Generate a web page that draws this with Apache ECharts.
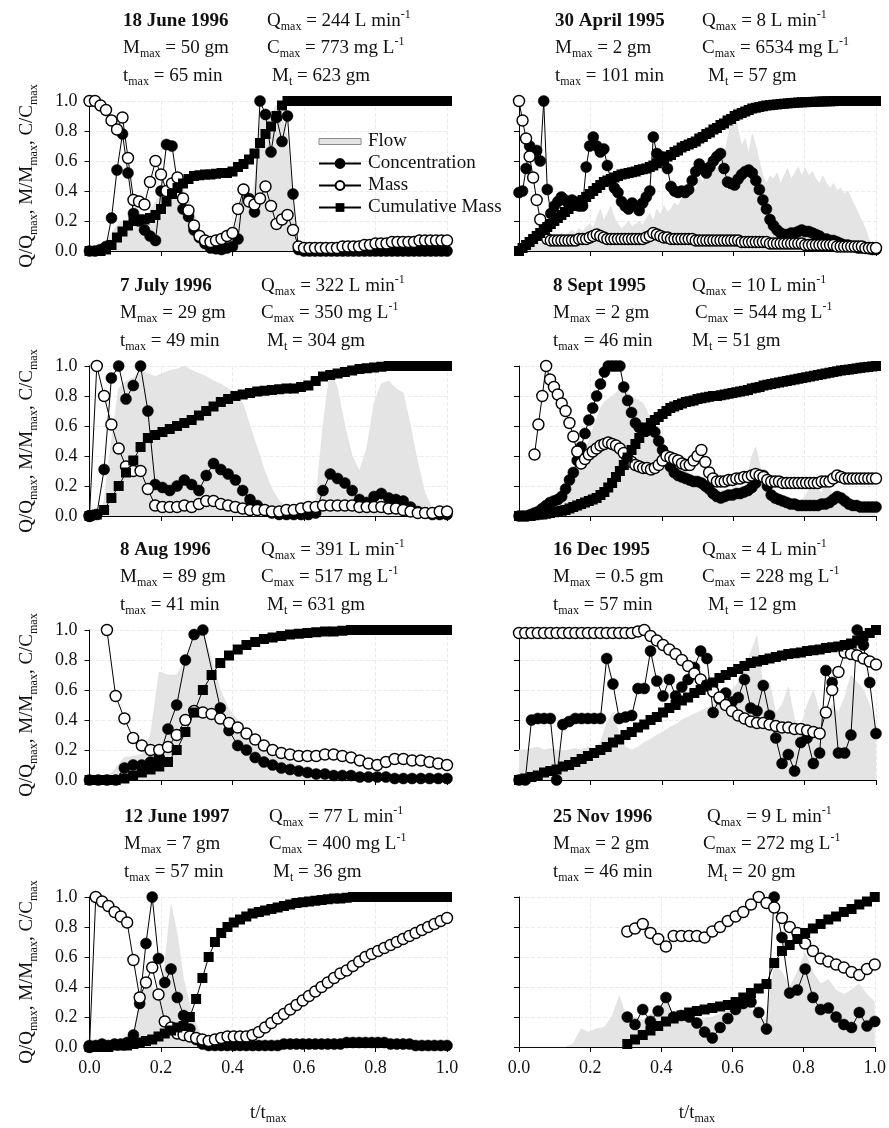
<!DOCTYPE html>
<html><head><meta charset="utf-8">
<script src="https://cdn.jsdelivr.net/npm/echarts@6/dist/echarts.min.js"></script>
<style>html,body{margin:0;padding:0;background:#fff}#c{width:889px;height:1128px}</style>
</head><body><div id="c"></div>
<script>
// ---------- text data ----------
const eventDates = ['18 June 1996','7 July 1996','8 Aug 1996','12 June 1997','30 April 1995','8 Sept 1995','16 Dec 1995','25 Nov 1996'];
const qMax = ['244','322','391','77','8','10','4','9'];
const mMax = ['50','29','89','7','2','2','0.5','2'];
const cMax = ['773','350','517','400','6534','544','228','272'];
const tMax = ['65','49','41','57','101','46','57','46'];
const mTot = ['623','304','631','36','57','51','12','20'];
const seriesNames = ['Flow','Concentration','Mass','Cumulative Mass'];

// ---------- series data (values at equally spaced samples over t/tmax 0..1) ----------
// 18 June 1996
const p1Flow = [0,0,0.01,0.05,0.12,0.17,0.2,0.2,0.19,0.18,0.2,0.27,0.33,0.37,0.4,0.43,0.45,0.42,0.35,0.25,0.15,0.08,0.05,0.03,0.03,0.05,0.1,0.22,0.3,0.3,0.45,0.85,0.95,0.92,0.97,0.9,0.75,0.3,0.04,0.01,0.01,0.01,0.01,0.01,0.01,0.01,0.01,0.01,0.01,0.01,0.01,0.01,0.01,0.01,0.01,0.01,0.01,0.01,0.01,0.01,0.01,0.01,0.01,0.01,0.01,0.01];
const p1Conc = [0,0,0.01,0.03,0.22,0.54,0.78,0.52,0.25,0.2,0.14,0.1,0.07,0.4,0.71,0.7,0.45,0.28,0.23,0.14,0.09,0.05,0.02,0.015,0.01,0.02,0.03,0.08,0.41,0.35,0.26,1,0.91,0.66,0.89,0.73,0.9,0.38,0.01,0,0,0,0,0,0,0,0,0,0,0,0,0,0,0,0,0,0,0,0,0,0,0,0,0,0,0];
const p1Mass = [1,1,0.97,0.94,0.87,0.81,0.89,0.62,0.34,0.33,0.31,0.46,0.6,0.51,0.4,0.45,0.49,0.35,0.27,0.17,0.1,0.07,0.06,0.07,0.08,0.1,0.12,0.28,0.41,0.33,0.31,0.35,0.43,0.3,0.18,0.21,0.24,0.14,0.03,0.02,0.02,0.02,0.02,0.02,0.02,0.02,0.03,0.03,0.03,0.03,0.04,0.04,0.05,0.05,0.05,0.06,0.06,0.06,0.06,0.06,0.07,0.07,0.07,0.07,0.07,0.07];
const p1Cum = [0,0,0,0.01,0.04,0.09,0.13,0.17,0.2,0.21,0.21,0.22,0.24,0.28,0.33,0.38,0.42,0.45,0.48,0.5,0.505,0.51,0.51,0.515,0.52,0.52,0.53,0.56,0.58,0.61,0.65,0.72,0.78,0.83,0.9,0.97,1,1,1,1,1,1,1,1,1,1,1,1,1,1,1,1,1,1,1,1,1,1,1,1,1,1,1,1,1,1];
// 7 July 1996
const p2Flow = [0,0,0.1,0.5,0.85,0.9,0.92,0.97,0.95,0.93,0.95,0.97,0.98,1,0.97,0.95,0.93,0.9,0.88,0.85,0.82,0.75,0.6,0.45,0.3,0.18,0.1,0.06,0.04,0.04,0.05,0.1,0.6,0.98,0.85,0.6,0.4,0.3,0.45,0.75,0.88,0.9,0.85,0.82,0.6,0.35,0.15,0.05,0.02,0.01];
const p2Conc = [0,0.01,0.31,0.92,1,0.78,0.87,1,0.7,0.21,0.19,0.17,0.2,0.24,0.21,0.17,0.27,0.35,0.31,0.28,0.24,0.17,0.11,0.07,0.04,0.02,0.01,0.01,0.01,0.01,0.01,0.02,0.17,0.28,0.25,0.22,0.17,0.11,0.09,0.13,0.15,0.12,0.11,0.1,0.06,0.03,0.02,0.01,0.01,0.01];
const p2Mass = [0,1,0.8,0.61,0.45,0.33,0.3,0.3,0.18,0.07,0.06,0.06,0.06,0.07,0.06,0.08,0.1,0.1,0.08,0.07,0.06,0.05,0.04,0.04,0.04,0.03,0.03,0.04,0.04,0.05,0.06,0.06,0.07,0.07,0.07,0.07,0.07,0.06,0.06,0.06,0.06,0.05,0.05,0.04,0.03,0.02,0.02,0.02,0.03,0.03];
const p2Cum = [0,0.01,0.04,0.12,0.2,0.29,0.37,0.46,0.52,0.54,0.56,0.58,0.6,0.62,0.64,0.67,0.7,0.73,0.76,0.78,0.8,0.81,0.82,0.83,0.835,0.84,0.845,0.85,0.85,0.86,0.87,0.9,0.93,0.94,0.95,0.96,0.97,0.98,0.985,0.99,0.995,1,1,1,1,1,1,1,1,1];
// 8 Aug 1996
const p3Flow = [0,0,0.02,0.08,0.15,0.16,0.17,0.3,0.72,0.7,0.7,0.8,0.95,1,0.8,0.6,0.47,0.4,0.34,0.28,0.25,0.2,0.15,0.12,0.1,0.08,0.07,0.06,0.05,0.04,0.03,0.03,0.02,0.02,0.02,0.02,0.01,0.01,0.01,0.01,0.01,0.01];
const p3Conc = [0,0,0,0,0.08,0.1,0.1,0.12,0.15,0.34,0.5,0.8,0.97,1,null,0.48,0.33,0.23,0.2,0.15,0.12,0.1,0.08,0.07,0.06,0.05,0.04,0.04,0.03,0.03,0.03,0.02,0.02,0.02,0.02,0.01,0.01,0.01,0.01,0.01,0.01,0.01];
const p3Mass = [null,null,1,0.56,0.41,0.28,0.23,0.2,0.2,0.22,0.3,0.4,0.46,0.45,0.44,0.41,0.38,0.35,0.31,0.27,0.23,0.2,0.18,0.17,0.16,0.16,0.16,0.17,0.17,0.16,0.15,0.13,0.11,0.1,0.12,0.14,0.14,0.13,0.13,0.12,0.11,0.1];
const p3Cum = [0,0,0,0,0.01,0.03,0.05,0.07,0.09,0.12,0.2,0.32,0.45,0.6,0.7,0.78,0.83,0.87,0.9,0.92,0.94,0.95,0.96,0.97,0.975,0.98,0.985,0.99,0.99,0.995,1,1,1,1,1,1,1,1,1,1,1,1];
// 12 June 1997
const p4Flow = [0,0,0,0,0,0,0.02,0.1,0.3,0.45,0.4,0.3,0.55,0.95,0.75,0.45,0.28,0.15,0.06,0.02,0,0,0,0,0,0,0,0,0,0,0,0,0,0,0,0,0,0,0,0,0,0,0,0,0,0,0,0,0,0,0,0,0,0,0,0,0,0];
const p4Conc = [0.01,0.01,0.02,0.01,0.02,0.02,0.03,0.08,0.29,0.69,1,0.59,0.43,0.52,0.33,0.21,0.12,0.05,0.02,0.01,0.01,0.01,0.01,0.01,0.01,0.01,0.01,0.01,0.01,0.01,0.01,0.02,0.02,0.02,0.02,0.02,0.02,0.02,0.02,0.02,0.02,0.03,0.03,0.03,0.03,0.03,0.03,0.03,0.02,0.02,0.02,0.02,0.01,0.01,0.01,0.01,0.01,0.01];
const p4Mass = [0,1,0.97,0.94,0.9,0.87,0.83,0.58,0.33,0.43,0.53,0.35,0.17,0.13,0.09,0.08,0.07,0.06,0.05,0.04,0.05,0.06,0.07,0.07,0.07,0.07,0.08,0.1,0.13,0.16,0.19,0.22,0.25,0.28,0.31,0.34,0.37,0.4,0.43,0.46,0.49,0.51,0.54,0.57,0.6,0.62,0.64,0.66,0.68,0.7,0.72,0.74,0.76,0.78,0.8,0.82,0.84,0.86];
const p4Cum = [0,0,0,0,0.01,0.01,0.01,0.02,0.03,0.04,0.05,0.07,0.09,0.11,0.13,0.14,0.2,0.32,0.46,0.6,0.7,0.76,0.8,0.83,0.85,0.87,0.89,0.9,0.91,0.92,0.93,0.94,0.95,0.96,0.965,0.97,0.975,0.98,0.985,0.99,0.99,0.995,1,1,1,1,1,1,1,1,1,1,1,1,1,1,1,1];
// 30 April 1995
const p5Flow = [0,0.01,0.02,0.03,0.04,0.05,0.05,0.06,0.08,0.1,0.08,0.1,0.12,0.1,0.12,0.14,0.12,0.15,0.13,0.16,0.18,0.15,0.22,0.28,0.2,0.25,0.3,0.22,0.18,0.15,0.17,0.2,0.16,0.18,0.2,0.17,0.22,0.25,0.2,0.28,0.24,0.3,0.26,0.28,0.32,0.3,0.35,0.4,0.36,0.45,0.4,0.5,0.45,0.55,0.5,0.58,0.55,0.6,0.62,0.75,0.85,0.96,0.8,0.7,0.75,0.65,0.78,0.7,0.6,0.5,0.45,0.5,0.48,0.52,0.45,0.5,0.55,0.48,0.52,0.56,0.5,0.55,0.5,0.53,0.48,0.45,0.5,0.45,0.42,0.45,0.4,0.42,0.38,0.4,0.35,0.3,0.25,0.2,0.15,0.08,0.03,0];
const p5Conc = [0.39,0.4,0.55,0.7,0.65,0.67,0.6,1,0.41,0.25,0.3,0.33,0.36,0.34,0.32,0.34,0.32,0.3,0.3,0.56,0.7,0.76,0.7,0.66,0.68,0.57,0.47,0.42,0.39,0.33,0.3,0.28,0.32,0.3,0.27,0.32,0.36,0.4,0.76,0.65,0.63,0.62,0.55,0.43,0.4,0.39,0.4,0.39,0.41,0.47,0.53,0.58,0.55,0.52,0.56,0.6,0.63,0.65,0.55,0.46,0.45,0.44,0.48,0.51,0.53,0.54,0.52,0.47,0.41,0.34,0.28,0.21,0.17,0.14,0.12,0.11,0.11,0.12,0.12,0.13,0.14,0.13,0.13,0.12,0.11,0.1,0.08,0.08,0.07,0.07,0.06,0.05,0.04,0.04,0.03,0.03,0.02,0.02,0.02,0.015,0.01,0.01];
const p5Mass = [1,0.87,0.75,0.63,0.49,0.34,0.21,0.12,0.08,0.07,0.07,0.07,0.07,0.07,0.07,0.07,0.07,0.08,0.08,0.08,0.09,0.1,0.11,0.1,0.09,0.08,0.08,0.08,0.08,0.08,0.08,0.08,0.08,0.08,0.08,0.08,0.09,0.1,0.12,0.11,0.1,0.09,0.09,0.08,0.08,0.08,0.08,0.08,0.08,0.08,0.07,0.07,0.07,0.07,0.07,0.07,0.07,0.07,0.07,0.07,0.07,0.07,0.07,0.06,0.06,0.06,0.06,0.06,0.06,0.06,0.06,0.05,0.05,0.05,0.05,0.05,0.05,0.05,0.05,0.05,0.05,0.04,0.04,0.04,0.04,0.04,0.04,0.04,0.04,0.04,0.03,0.03,0.03,0.03,0.03,0.03,0.03,0.03,0.02,0.02,0.02,0.02];
const p5Cum = [0,0.02,0.04,0.06,0.08,0.1,0.12,0.14,0.16,0.18,0.2,0.22,0.24,0.26,0.28,0.3,0.31,0.33,0.34,0.36,0.38,0.4,0.42,0.44,0.46,0.47,0.48,0.49,0.5,0.51,0.515,0.52,0.525,0.53,0.54,0.545,0.55,0.56,0.57,0.585,0.6,0.61,0.63,0.64,0.66,0.67,0.69,0.7,0.71,0.72,0.73,0.75,0.76,0.78,0.79,0.81,0.82,0.84,0.85,0.87,0.88,0.9,0.91,0.92,0.93,0.94,0.95,0.955,0.96,0.965,0.97,0.972,0.975,0.977,0.98,0.982,0.984,0.986,0.988,0.99,0.991,0.992,0.993,0.994,0.995,0.996,0.997,0.998,0.998,0.999,1,1,1,1,1,1,1,1,1,1,1,1];
// 8 Sept 1995
const p6Flow = [0,0,0,0,0.01,0.02,0.04,0.06,0.09,0.12,0.15,0.17,0.2,0.23,0.26,0.3,0.36,0.42,0.5,0.58,0.65,0.72,0.76,0.78,0.8,0.82,0.85,0.84,0.82,0.8,0.78,0.77,0.75,0.7,0.62,0.56,0.52,0.47,0.43,0.4,0.37,0.35,0.33,0.3,0.28,0.26,0.25,0.23,0.21,0.2,0.19,0.18,0.17,0.17,0.16,0.16,0.15,0.15,0.18,0.28,0.4,0.46,0.35,0.2,0.15,0.14,0.13,0.12,0.12,0.11,0.11,0.1,0.1,0.11,0.14,0.2,0.25,0.18,0.15,0.22,0.18,0.14,0.12,0.12,0.11,0.1,0.1,0.09,0.09,0.08,0.08,0.07,0.06];
const p6Conc = [0,0,0,0.01,0.02,0.03,0.05,0.07,0.09,0.1,0.11,0.13,0.18,0.24,0.29,0.37,0.46,0.55,0.64,0.72,0.8,0.88,0.96,1,1,1,1,0.86,0.77,0.69,0.62,0.59,0.58,0.57,0.58,0.56,0.5,0.44,0.38,0.33,0.29,0.27,0.26,0.25,0.24,0.23,0.23,0.22,0.2,0.18,0.15,0.13,0.12,0.13,0.14,0.14,0.15,0.15,0.16,0.17,0.19,0.22,0.26,0.27,0.2,0.14,0.12,0.11,0.1,0.09,0.08,0.08,0.07,0.07,0.07,0.07,0.07,0.07,0.08,0.08,0.09,0.11,0.13,0.12,0.1,0.08,0.07,0.07,0.06,0.06,0.06,0.06,0.06];
const p6Mass = [null,null,null,null,0.41,0.61,0.8,1,0.91,0.86,0.81,0.75,0.7,0.62,0.53,0.43,0.35,0.38,0.41,0.43,0.45,0.47,0.48,0.49,0.48,0.47,0.45,0.42,0.38,0.36,0.34,0.33,0.32,0.32,0.31,0.32,0.34,0.37,0.4,0.39,0.38,0.37,0.35,0.34,0.34,0.37,0.4,0.44,0.36,0.29,0.25,0.23,0.23,0.23,0.24,0.24,0.25,0.25,0.26,0.26,0.27,0.28,0.27,0.26,0.24,0.23,0.23,0.23,0.22,0.22,0.22,0.22,0.22,0.22,0.22,0.22,0.22,0.22,0.23,0.23,0.23,0.25,0.27,0.26,0.25,0.25,0.25,0.25,0.25,0.25,0.25,0.25,0.25];
const p6Cum = [0,0,0,0,0.005,0.01,0.01,0.015,0.02,0.025,0.03,0.035,0.04,0.05,0.06,0.07,0.08,0.09,0.1,0.11,0.12,0.14,0.16,0.19,0.22,0.26,0.3,0.34,0.39,0.44,0.48,0.52,0.56,0.59,0.62,0.64,0.66,0.68,0.7,0.72,0.73,0.74,0.75,0.76,0.765,0.77,0.78,0.785,0.79,0.795,0.8,0.8,0.805,0.81,0.815,0.82,0.825,0.83,0.835,0.84,0.85,0.855,0.86,0.87,0.875,0.88,0.885,0.89,0.895,0.9,0.905,0.91,0.915,0.92,0.925,0.93,0.935,0.94,0.945,0.95,0.955,0.96,0.965,0.97,0.973,0.976,0.98,0.984,0.988,0.991,0.994,0.997,1];
// 16 Dec 1995
const p7Flow = [0.2,0.2,0.21,0.22,0.2,0.21,0.2,0.19,0.2,0.21,0.2,0.22,0.2,0.25,0.38,0.45,0.3,0.22,0.2,0.22,0.25,0.27,0.3,0.32,0.35,0.37,0.4,0.42,0.44,0.46,0.48,0.5,0.53,0.55,0.6,0.65,0.75,0.85,0.96,0.6,0.65,0.45,0.5,0.62,0.4,0.35,0.5,0.6,0.45,0.4,0.5,0.45,0.55,0.7,0.65,0.6,0.5,0.35];
const p7Conc = [0,0,0.4,0.41,0.41,0.41,0,0.37,0.39,0.41,0.41,0.41,0.41,0.41,0.81,0.64,0.41,0.42,0.43,0.61,0.61,0.86,0.66,0.56,0.67,0.56,0.62,0.67,0.75,0.86,0.81,0.45,0.54,0.58,0.52,0.55,0.67,0.48,0.46,0.63,0.43,0.28,0.11,0.17,0.06,0.25,0.28,0.11,0.18,0.73,0.65,0.18,0.18,0.3,1,0.9,0.65,0.31];
const p7Mass = [0.98,0.98,0.98,0.98,0.98,0.98,0.98,0.98,0.98,0.98,0.98,0.98,0.98,0.98,0.98,0.98,0.98,0.98,0.98,0.99,1,0.96,0.93,0.9,0.87,0.84,0.8,0.76,0.71,0.67,0.63,0.59,0.55,0.5,0.46,0.43,0.41,0.39,0.38,0.38,0.37,0.36,0.35,0.35,0.34,0.34,0.33,0.32,0.31,0.45,0.6,0.72,0.85,0.84,0.83,0.81,0.79,0.77];
const p7Cum = [0,0.01,0.02,0.03,0.05,0.06,0.07,0.09,0.1,0.12,0.14,0.16,0.18,0.2,0.22,0.25,0.27,0.3,0.32,0.35,0.37,0.4,0.42,0.45,0.48,0.5,0.53,0.55,0.58,0.6,0.63,0.65,0.68,0.7,0.72,0.74,0.76,0.78,0.79,0.8,0.81,0.82,0.83,0.84,0.845,0.85,0.86,0.865,0.87,0.88,0.885,0.89,0.9,0.91,0.93,0.96,0.98,1];
// 25 Nov 1996
const p8Flow = [0,0,0,0,0,0,0,0.02,0.12,0.1,0.12,0.13,0.2,0.34,0.17,0.2,0.18,0.22,0.25,0.32,0.22,0.2,0.18,0.17,0.19,0.2,0.22,0.25,0.27,0.3,0.25,0.2,0.18,0.55,0.5,0.4,0.5,0.63,0.5,0.42,0.45,0.38,0.35,0.38,0.42,0.35,0.3];
const p8Conc = [null,null,null,null,null,null,null,null,null,null,null,null,null,null,0.2,0.15,0.25,0.17,0.24,0.33,0.2,0.21,0.2,0.16,0.1,0.06,0.13,0.19,0.25,0.29,0.3,0.23,0.12,1,0.73,0.36,0.38,0.52,0.33,0.25,0.26,0.2,0.15,0.13,0.23,0.14,0.17];
const p8Mass = [null,null,null,null,null,null,null,null,null,null,null,null,null,null,0.77,0.79,0.82,0.76,0.72,0.67,0.74,0.74,0.74,0.74,0.73,0.77,0.8,0.84,0.87,0.9,0.95,1,0.96,0.93,0.86,0.8,0.76,0.69,0.64,0.59,0.57,0.55,0.53,0.5,0.48,0.52,0.55];
const p8Cum = [null,null,null,null,null,null,null,null,null,null,null,null,null,null,0.02,0.05,0.08,0.11,0.14,0.17,0.19,0.21,0.23,0.24,0.25,0.26,0.27,0.28,0.3,0.33,0.36,0.39,0.42,0.56,0.64,0.68,0.72,0.76,0.79,0.82,0.85,0.87,0.9,0.92,0.95,0.97,1];

// ---------- layout (not data) ----------
const SERIF = 'Liberation Serif';
const COLS = [{left: 89.5, width: 357.5}, {left: 519, width: 357}];
const ROW_TOPS = [101, 366, 630, 897];
const PLOT_H = 150;
const TEXT_X = [[123,267,267,272],[120,261,261,267],[120,261,261,267],[124,269,269,273],
                [555,702,702,708],[553,692,695,692],[553,702,702,708],[553,707,703,707]];
const TEXT_DY = [-92, -65, -37];
const FLOW_GRAY = '#e4e4e4';

const panelSeries = [
  [p1Flow,p1Conc,p1Mass,p1Cum],[p2Flow,p2Conc,p2Mass,p2Cum],[p3Flow,p3Conc,p3Mass,p3Cum],[p4Flow,p4Conc,p4Mass,p4Cum],
  [p5Flow,p5Conc,p5Mass,p5Cum],[p6Flow,p6Conc,p6Mass,p6Cum],[p7Flow,p7Conc,p7Mass,p7Cum],[p8Flow,p8Conc,p8Mass,p8Cum]
];

const RICH = {
  b:{fontSize:19,fontWeight:'bold',fontFamily:SERIF,lineHeight:24,color:'#111'},
  n:{fontSize:19,fontFamily:SERIF,lineHeight:24,color:'#111'},
  s:{fontSize:12,fontFamily:SERIF,lineHeight:11,verticalAlign:'bottom',color:'#111'},
  p:{fontSize:12,fontFamily:SERIF,lineHeight:15,verticalAlign:'top',color:'#111'}
};

function toPairs(arr){ const N = arr.length - 1; return arr.map((v,i)=>[i/N, v]); }

const grids=[], xAxes=[], yAxes=[], series=[], graphics=[];
panelSeries.forEach((ps,k)=>{
  const col = k<4?0:1, row = k%4, T = ROW_TOPS[row];
  grids.push({left: COLS[col].left, width: COLS[col].width, top: T, height: PLOT_H});
  const bottom = row===3;
  xAxes.push({gridIndex:k, type:'value', min:0, max:1, interval:0.2,
    axisLine:{show:true,onZero:false,lineStyle:{color:'#000',width:1}},
    axisTick:{show:true,length:5,lineStyle:{color:'#000'}},
    axisLabel:{show:bottom, formatter:v=>v.toFixed(1), fontSize:18, fontFamily:SERIF, color:'#111', margin:12},
    splitLine:{show:true,lineStyle:{color:'#ebebeb',type:'dashed',width:1}},
    name: bottom?'{n|t/t}{s|max}':'', nameLocation:'middle', nameGap:54, nameTextStyle:{rich:RICH}
  });
  yAxes.push({gridIndex:k, type:'value', min:0, max:1, interval:0.2,
    axisLine:{show:true,lineStyle:{color:'#000',width:1}},
    axisTick:{show:true,length:5,lineStyle:{color:'#000'}},
    axisLabel:{show:col===0, formatter:v=>v.toFixed(1), fontSize:18, fontFamily:SERIF, color:'#111', margin:12},
    splitLine:{show:true,lineStyle:{color:'#ebebeb',type:'dashed',width:1}},
    name: col===0?'{n|Q/Q}{s|max}{n|, M/M}{s|max}{n|, C/C}{s|max}':'',
    nameLocation:'middle', nameRotate:90, nameGap:50, nameTextStyle:{rich:RICH}
  });
  series.push({name:seriesNames[0], type:'line', xAxisIndex:k, yAxisIndex:k, data:toPairs(ps[0]),
    symbol:'none', lineStyle:{width:0.5,color:'#dadada'}, itemStyle:{color:FLOW_GRAY},
    areaStyle:{color:FLOW_GRAY,opacity:1}, z:1, silent:true});
  series.push({name:seriesNames[1], type:'line', xAxisIndex:k, yAxisIndex:k, data:toPairs(ps[1]),
    symbol:'circle', symbolSize:11, connectNulls:true, clip:false,
    lineStyle:{width:1,color:'#000'}, itemStyle:{color:'#000',borderColor:'#000',borderWidth:0.5}, z:3});
  series.push({name:seriesNames[2], type:'line', xAxisIndex:k, yAxisIndex:k, data:toPairs(ps[2]),
    symbol:'circle', symbolSize:11, connectNulls:true, clip:false,
    lineStyle:{width:1,color:'#000'}, itemStyle:{color:'#fff',borderColor:'#000',borderWidth:1.4}, z:3});
  series.push({name:seriesNames[3], type:'line', xAxisIndex:k, yAxisIndex:k, data:toPairs(ps[3]),
    symbol:'rect', symbolSize:10, connectNulls:true, clip:false,
    lineStyle:{width:1,color:'#000'}, itemStyle:{color:'#000'}, z:3});

  const tx = TEXT_X[k];
  const txt=(x,y,text)=>({type:'text', x:x, y:y, silent:true, z:10,
    style:{text:text, rich:RICH, align:'left', verticalAlign:'top', fill:'#111'}});
  graphics.push(txt(tx[0], T+TEXT_DY[0], '{b|'+eventDates[k]+'}'));
  graphics.push(txt(tx[1], T+TEXT_DY[0], '{n|Q}{s|max}{n| = '+qMax[k]+' L min}{p|-1}'));
  graphics.push(txt(tx[0], T+TEXT_DY[1], '{n|M}{s|max}{n| = '+mMax[k]+' gm}'));
  graphics.push(txt(tx[2], T+TEXT_DY[1], '{n|C}{s|max}{n| = '+cMax[k]+' mg L}{p|-1}'));
  graphics.push(txt(tx[0], T+TEXT_DY[2], '{n|t}{s|max}{n| = '+tMax[k]+' min}'));
  graphics.push(txt(tx[3], T+TEXT_DY[2], '{n|M}{s|t}{n| = '+mTot[k]+' gm}'));
});

const chart = echarts.init(document.getElementById('c'), null, {renderer:'canvas', width:889, height:1128});
chart.setOption({
  animation:false,
  backgroundColor:'#fff',
  grid:grids, xAxis:xAxes, yAxis:yAxes, series:series, graphic:graphics,
  legend:{
    orient:'vertical', left:313, top:127, itemGap:3, itemWidth:42, itemHeight:11,
    textStyle:{fontSize:19, fontFamily:SERIF, color:'#111', padding:[0,0,0,2]},
    data:[
      {name:'Flow', icon:'path://M0,0h42v6h-42z', itemStyle:{color:FLOW_GRAY,borderColor:'#8a8a8a',borderWidth:1}},
      'Concentration','Mass','Cumulative Mass'
    ],
    selectedMode:false
  }
});
</script>
</body></html>
